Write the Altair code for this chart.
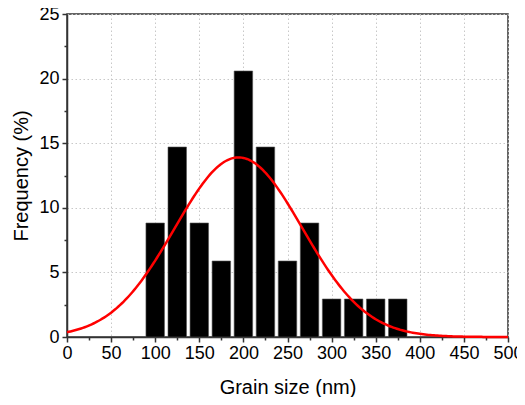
import altair as alt
import pandas as pd
import numpy as np

# Histogram data
bin_centers = [100, 125, 150, 175, 200, 225, 250, 275, 300, 325, 350, 375]
counts = [3, 5, 3, 2, 7, 5, 2, 3, 1, 1, 1, 1]
total = sum(counts)
freq = [c / total * 100 for c in counts]

# Gaussian fit parameters
fit_mu = 194.5
fit_sigma = 72.3
fit_amp = 13.9

x_major = list(range(0, 501, 50))
x_minor = list(range(25, 500, 50))
y_major = [0, 5, 10, 15, 20, 25]
y_minor = [2.5, 7.5, 12.5, 17.5, 22.5]

bars_df = pd.DataFrame({"size": bin_centers, "freq": freq})
xs = np.linspace(0, 500, 251)
curve_df = pd.DataFrame({"x": xs, "y": fit_amp * np.exp(-((xs - fit_mu) ** 2) / (2 * fit_sigma ** 2))})

xscale = alt.Scale(domain=[0, 500], nice=False, zero=False, padding=0)
yscale = alt.Scale(domain=[0, 25], nice=False, padding=0)

FONT = "Liberation Sans"
DARK = "#333333"

common_axis = dict(
    domainColor=DARK, domainWidth=1.5, tickColor=DARK, tickWidth=1.5,
    labelFont=FONT, labelFontSize=18, labelColor="black",
    titleFont=FONT, titleFontSize=20, titleColor="black", titleFontWeight="normal",
    gridColor="#c8c8c8", gridDash=[1.5, 2.5], gridWidth=1,
)

bars = alt.Chart(bars_df).mark_bar(color="black", size=18.5, stroke="#555555", strokeWidth=0.6).encode(
    x=alt.X("size:Q", scale=xscale,
            axis=alt.Axis(values=x_major, title="Grain size (nm)", grid=True, tickSize=5,
                          labelPadding=2, titlePadding=15, labelFlush=False, **common_axis)),
    y=alt.Y("freq:Q", scale=yscale,
            axis=alt.Axis(values=y_major, title="Frequency (%)", grid=True, tickSize=5,
                          labelPadding=3, titlePadding=7, **common_axis)),
)

curve = alt.Chart(curve_df).mark_line(color="#ff0000", strokeWidth=2.5).encode(
    x=alt.X("x:Q", scale=xscale, axis=None),
    y=alt.Y("y:Q", scale=yscale, axis=None),
)

minor = alt.Chart(bars_df).mark_point(opacity=0).encode(
    x=alt.X("size:Q", scale=xscale,
            axis=alt.Axis(values=x_minor, orient="bottom", labels=False, domain=False, grid=False,
                          tickSize=3, tickColor=DARK, tickWidth=1.5, title=None)),
    y=alt.Y("freq:Q", scale=yscale,
            axis=alt.Axis(values=y_minor, orient="left", labels=False, domain=False, grid=False,
                          tickSize=3, tickColor=DARK, tickWidth=1.5, title=None)),
)

chart = alt.layer(bars, curve, minor).resolve_axis(x="independent", y="independent").properties(
    width=441, height=323,
    autosize=alt.AutoSizeParams(type="none"),
    padding={"left": 59, "top": 6, "right": 9, "bottom": 60},
).configure_view(stroke=DARK, strokeWidth=1.5)

chart.save("out.html", embed_options={"renderer": "svg", "actions": False})
